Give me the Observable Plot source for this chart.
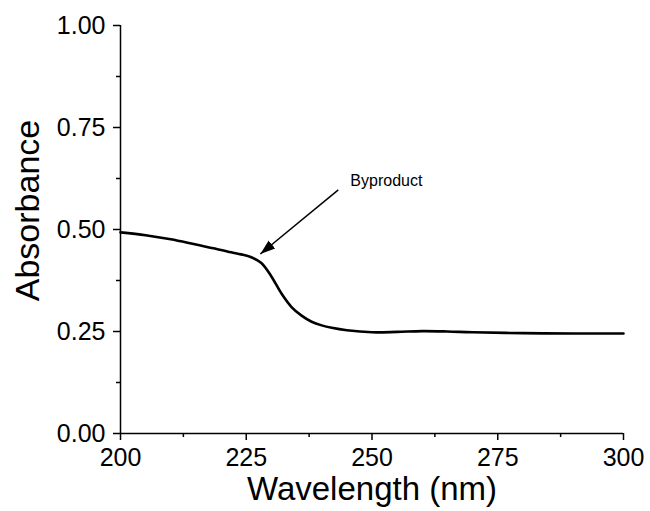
<!DOCTYPE html>
<html>
<head>
<meta charset="utf-8">
<script src="https://cdn.jsdelivr.net/npm/d3@7"></script>
<script src="https://cdn.jsdelivr.net/npm/@observablehq/plot@0.6"></script>
<style>
  html, body { margin: 0; padding: 0; background: #fff; }
  #chart svg { display: block; }
</style>
</head>
<body>
<div id="chart"></div>
<script>
// Spectrum
const wavelength = [200, 205, 210, 215, 220, 222, 224, 226, 228, 230, 232, 234, 236, 238, 240, 242, 245, 250, 255, 260, 265, 270, 280, 290, 300];
const absorbance = [0.493, 0.486, 0.476, 0.463, 0.450, 0.444, 0.439, 0.432, 0.418, 0.385, 0.343, 0.310, 0.289, 0.274, 0.265, 0.259, 0.253, 0.248, 0.249, 0.251, 0.250, 0.248, 0.246, 0.245, 0.245];

const xTicks = [200, 225, 250, 275, 300];
const xMinorTicks = [212.5, 237.5, 262.5, 287.5];
const yTicks = [0, 0.25, 0.5, 0.75, 1.0];
const yMinorTicks = [0.125, 0.375, 0.625, 0.875];

const xTitle = "Wavelength (nm)";
const yTitle = "Absorbance";

// Annotation
const noteText = ["Byproduct"];
const noteTextPos = [{x: 245.7, y: 0.62}];
const noteArrow = [{x1: 243.3, y1: 0.597, x2: 227.8, y2: 0.440}];

const data = wavelength.map((w, i) => ({w, a: absorbance[i]}));

function filledArrow(color, context) {
  const doc = context && context.document ? context.document : document;
  const ns = "http://www.w3.org/2000/svg";
  const m = doc.createElementNS(ns, "marker");
  m.setAttribute("viewBox", "-5 -5 10 10");
  m.setAttribute("markerWidth", 10);
  m.setAttribute("markerHeight", 10);
  m.setAttribute("refX", 5);
  m.setAttribute("orient", "auto");
  m.setAttribute("markerUnits", "strokeWidth");
  m.setAttribute("fill", color);
  m.setAttribute("stroke", "none");
  const p = doc.createElementNS(ns, "path");
  p.setAttribute("d", "M-5,-3.4L5,0L-5,3.4Z");
  m.appendChild(p);
  return m;
}

const noLabel = () => "";

const chart = Plot.plot({
  width: 650,
  height: 511,
  marginLeft: 120,
  marginRight: 27,
  marginTop: 25,
  marginBottom: 78,
  style: {fontFamily: "'Liberation Sans', Arial, sans-serif", background: "#fff", color: "#000"},
  x: {domain: [200, 300]},
  y: {domain: [0, 1]},
  marks: [
    Plot.axisX(xTicks, {tickSize: 7, tickPadding: 8, fontSize: 25, label: null, strokeWidth: 1.5}),
    Plot.axisX(xMinorTicks, {tickSize: 4, tickFormat: noLabel, label: null, strokeWidth: 1.5}),
    Plot.axisY(yTicks, {tickSize: 7, tickPadding: 8, fontSize: 25, label: null, tickFormat: d3.format(".2f"), strokeWidth: 1.5}),
    Plot.axisY(yMinorTicks, {tickSize: 4, tickFormat: noLabel, label: null, strokeWidth: 1.5}),
    Plot.ruleX([200], {strokeWidth: 1.5}),
    Plot.ruleY([0], {strokeWidth: 1.5}),
    Plot.line(data, {x: "w", y: "a", stroke: "#000", strokeWidth: 2.6, curve: "catmull-rom"}),
    Plot.link(noteArrow, {x1: "x1", y1: "y1", x2: "x2", y2: "y2", stroke: "#000", strokeWidth: 1.5, markerEnd: filledArrow}),
    Plot.text(noteText, {x: noteTextPos.map(d => d.x), y: noteTextPos.map(d => d.y), text: d => d, textAnchor: "start", fontSize: 16, fill: "#000"}),
    Plot.text([yTitle], {frameAnchor: "left", textAnchor: "middle", lineAnchor: "middle", rotate: -90, dx: -92, dy: -19, fontSize: 34, fill: "#000"}),
    Plot.text([xTitle], {frameAnchor: "bottom", textAnchor: "middle", lineAnchor: "middle", dy: 56, fontSize: 33, fill: "#000"})
  ]
});
document.getElementById("chart").appendChild(chart);
</script>
</body>
</html>
